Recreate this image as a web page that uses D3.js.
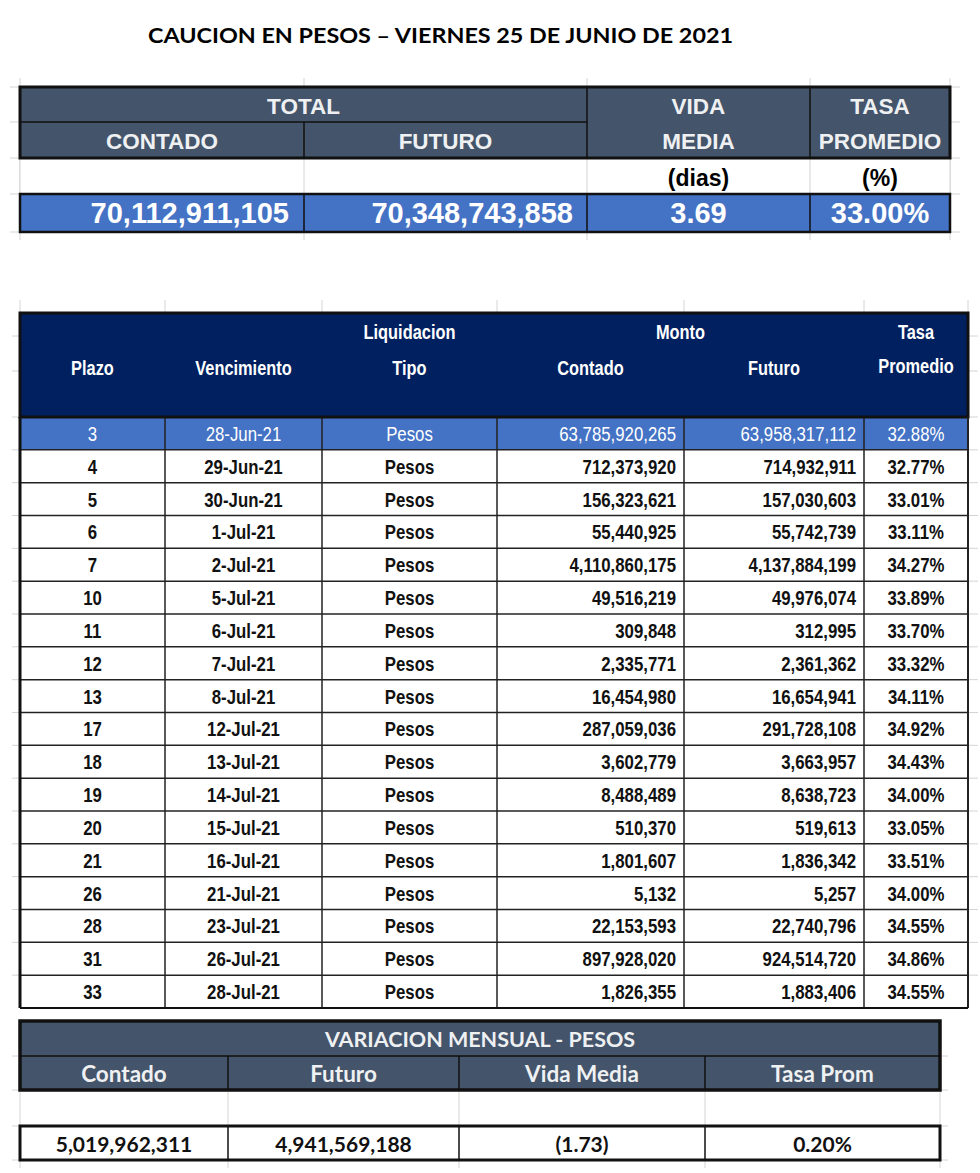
<!DOCTYPE html>
<html>
<head>
<meta charset="utf-8">
<script src="https://cdn.jsdelivr.net/npm/d3@7"></script>
<style>
  body { margin: 0; background: #fff; }
  svg text { font-family: "Liberation Sans", Arial, sans-serif; }
</style>
</head>
<body>
<div id="chart"></div>
<script>
// ---- datos ----
var titulo = "CAUCION EN PESOS \u2013 VIERNES 25 DE JUNIO DE 2021";

var totalContado = 70112911105,
    totalFuturo = 70348743858,
    vidaMedia = 3.69,
    tasaPromedio = 33.00;

var plazo = [3, 4, 5, 6, 7, 10, 11, 12, 13, 17, 18, 19, 20, 21, 26, 28, 31, 33];
var vencimiento = ["28-Jun-21", "29-Jun-21", "30-Jun-21", "1-Jul-21", "2-Jul-21", "5-Jul-21",
  "6-Jul-21", "7-Jul-21", "8-Jul-21", "12-Jul-21", "13-Jul-21", "14-Jul-21", "15-Jul-21",
  "16-Jul-21", "21-Jul-21", "23-Jul-21", "26-Jul-21", "28-Jul-21"];
var tipo = ["Pesos", "Pesos", "Pesos", "Pesos", "Pesos", "Pesos", "Pesos", "Pesos", "Pesos",
  "Pesos", "Pesos", "Pesos", "Pesos", "Pesos", "Pesos", "Pesos", "Pesos", "Pesos"];
var contado = [63785920265, 712373920, 156323621, 55440925, 4110860175, 49516219, 309848,
  2335771, 16454980, 287059036, 3602779, 8488489, 510370, 1801607, 5132, 22153593,
  897928020, 1826355];
var futuro = [63958317112, 714932911, 157030603, 55742739, 4137884199, 49976074, 312995,
  2361362, 16654941, 291728108, 3663957, 8638723, 519613, 1836342, 5257, 22740796,
  924514720, 1883406];
var tasa = [32.88, 32.77, 33.01, 33.11, 34.27, 33.89, 33.70, 33.32, 34.11, 34.92, 34.43,
  34.00, 33.05, 33.51, 34.00, 34.55, 34.86, 34.55];

var varLabels = ["Contado", "Futuro", "Vida Media", "Tasa Prom"];
var varValues = [5019962311, 4941569188, -1.73, 0.20];

// ---- formatos ----
var fmtNum = d3.format(",");
var fmtPct = function(v) { return d3.format(".2f")(v) + "%"; };
var fmtNeg = function(v) { return v < 0 ? "(" + d3.format(".2f")(-v) + ")" : d3.format(".2f")(v); };

var W = 980, H = 1173;
var slate = "#44546a", navy = "#002060", blue = "#4472c4", grid = "#d4d4d4";
var NARROW = 0.82; // Arial Narrow ~ Arial comprimida
var calibri = "Lato, 'Open Sans', sans-serif";

var svg = d3.select("#chart").append("svg")
  .attr("width", W).attr("height", H);

// titulo
svg.append("text")
  .attr("x", 148).attr("y", 43)
  .attr("textLength", 585).attr("lengthAdjust", "spacingAndGlyphs")
  .style("font-family", calibri)
  .style("font-weight", 700).style("font-size", "21.5px")
  .text(titulo);

function line(g, x1, y1, x2, y2, color, w) {
  g.append("line").attr("x1", x1).attr("y1", y1).attr("x2", x2).attr("y2", y2)
    .attr("stroke", color).attr("stroke-width", w);
}

// =============== tabla TOTAL ===============
var top1 = svg.append("g");
var tx = d3.scaleOrdinal().domain([0, 1, 2, 3, 4]).range([20, 304, 587, 810, 950]);
var ty = d3.scaleOrdinal().domain([0, 1, 2, 3, 4]).range([87, 122, 158, 194, 232]);

// grilla clara
[0, 1, 2, 3, 4].forEach(function(c) { line(top1, tx(c), 78, tx(c), 240, grid, 1); });
[0, 1, 2, 3, 4].forEach(function(r) { line(top1, 10, ty(r), 960, ty(r), grid, 1); });

top1.append("rect").attr("x", tx(0)).attr("y", ty(0))
  .attr("width", tx(4) - tx(0)).attr("height", ty(2) - ty(0)).attr("fill", slate);
top1.append("rect").attr("x", tx(0)).attr("y", ty(3))
  .attr("width", tx(4) - tx(0)).attr("height", ty(4) - ty(3)).attr("fill", blue);
top1.append("rect").attr("x", tx(0)).attr("y", ty(2))
  .attr("width", tx(4) - tx(0)).attr("height", ty(3) - ty(2)).attr("fill", "#fff");
[0, 1, 2, 3, 4].forEach(function(c) { line(top1, tx(c), ty(2), tx(c), ty(3), grid, 1); });

// bordes cabecera
line(top1, tx(0), ty(1), tx(2), ty(1), "#111", 1.5);
line(top1, tx(1), ty(1), tx(1), ty(2), "#111", 1.5);
line(top1, tx(2), ty(0), tx(2), ty(2), "#111", 1.5);
line(top1, tx(3), ty(0), tx(3), ty(2), "#111", 1.5);
top1.append("rect").attr("x", tx(0)).attr("y", ty(0))
  .attr("width", tx(4) - tx(0)).attr("height", ty(2) - ty(0))
  .attr("fill", "none").attr("stroke", "#111").attr("stroke-width", 3);
// bordes fila de totales
[1, 2, 3].forEach(function(c) { line(top1, tx(c), ty(3), tx(c), ty(4), "#111", 1.5); });
top1.append("rect").attr("x", tx(0)).attr("y", ty(3))
  .attr("width", tx(4) - tx(0)).attr("height", ty(4) - ty(3))
  .attr("fill", "none").attr("stroke", "#111").attr("stroke-width", 2.5);

var hdrTop = [
  {t: "TOTAL", x: (tx(0) + tx(2)) / 2, y: ty(0)},
  {t: "CONTADO", x: (tx(0) + tx(1)) / 2, y: ty(1)},
  {t: "FUTURO", x: (tx(1) + tx(2)) / 2, y: ty(1)},
  {t: "VIDA", x: (tx(2) + tx(3)) / 2, y: ty(0)},
  {t: "MEDIA", x: (tx(2) + tx(3)) / 2, y: ty(1)},
  {t: "TASA", x: (tx(3) + tx(4)) / 2, y: ty(0)},
  {t: "PROMEDIO", x: (tx(3) + tx(4)) / 2, y: ty(1)}
];
top1.selectAll("text.h").data(hdrTop).enter().append("text")
  .attr("x", function(d) { return d.x; })
  .attr("y", function(d) { return d.y + 27; })
  .attr("text-anchor", "middle")
  .attr("fill", "#eef0f2")
  .style("font-weight", 700).style("font-size", "22.5px")
  .text(function(d) { return d.t; });

top1.selectAll("text.u").data(["(dias)", "(%)"]).enter().append("text")
  .attr("x", function(d, i) { return (tx(2 + i) + tx(3 + i)) / 2; })
  .attr("y", ty(2) + 28)
  .attr("text-anchor", "middle")
  .style("font-weight", 700).style("font-size", "23px")
  .text(function(d) { return d; });

var totVals = [
  {t: fmtNum(totalContado), x: tx(1) - 15, a: "end"},
  {t: fmtNum(totalFuturo), x: tx(2) - 14, a: "end"},
  {t: d3.format(".2f")(vidaMedia), x: (tx(2) + tx(3)) / 2, a: "middle"},
  {t: fmtPct(tasaPromedio), x: (tx(3) + tx(4)) / 2, a: "middle"}
];
top1.selectAll("text.v").data(totVals).enter().append("text")
  .attr("x", function(d) { return d.x; })
  .attr("y", ty(3) + 29)
  .attr("text-anchor", function(d) { return d.a; })
  .attr("fill", "#fff")
  .style("font-weight", 700).style("font-size", "29px")
  .text(function(d) { return d.t; });

// =============== tabla detalle ===============
var main = svg.append("g");
var colEdges = [20, 165, 322, 497, 684, 864, 968];
var cx = d3.scaleOrdinal().domain(d3.range(7)).range(colEdges);
var hdrTopY = 313, hdrBotY = 417;
var ry = d3.scaleBand().domain(d3.range(plazo.length)).range([hdrBotY, 1008]);

// grilla clara alrededor
colEdges.forEach(function(e) { line(main, e, 300, e, hdrTopY, grid, 1); });
[336, 371].forEach(function(y) { line(main, 968, y, 978, y, grid, 1); line(main, 12, y, 20, y, grid, 1); });
ry.domain().forEach(function(i) {
  line(main, 12, ry(i), 20, ry(i), grid, 1);
  line(main, 968, ry(i), 978, ry(i), grid, 1);
});

main.append("rect").attr("x", cx(0)).attr("y", hdrTopY)
  .attr("width", cx(6) - cx(0)).attr("height", hdrBotY - hdrTopY).attr("fill", navy);

main.selectAll("rect.row").data(plazo).enter().append("rect")
  .attr("x", cx(0)).attr("y", function(d, i) { return ry(i); })
  .attr("width", cx(6) - cx(0)).attr("height", ry.bandwidth())
  .attr("fill", function(d, i) { return i === 0 ? blue : "#fff"; });

// lineas de filas y columnas
ry.domain().forEach(function(i) {
  line(main, cx(0), ry(i) + ry.bandwidth(), cx(6), ry(i) + ry.bandwidth(), "#222", 1.5);
});
d3.range(1, 6).forEach(function(c) { line(main, cx(c), hdrBotY, cx(c), 1008, "#222", 1.5); });
main.append("rect").attr("x", cx(0)).attr("y", hdrTopY)
  .attr("width", cx(6) - cx(0)).attr("height", hdrBotY - hdrTopY)
  .attr("fill", "none").attr("stroke", "#111").attr("stroke-width", 3);
line(main, cx(0), hdrBotY, cx(0), 1008, "#111", 3);
line(main, cx(6), hdrBotY, cx(6), 1008, "#222", 2);
line(main, cx(0), 1008, cx(6), 1008, "#111", 2);

var mainHdr = [
  {t: "Plazo", x: (cx(0) + cx(1)) / 2, y: 375},
  {t: "Vencimiento", x: (cx(1) + cx(2)) / 2, y: 375},
  {t: "Liquidacion", x: (cx(2) + cx(3)) / 2, y: 339},
  {t: "Tipo", x: (cx(2) + cx(3)) / 2, y: 375},
  {t: "Monto", x: (cx(3) + cx(5)) / 2, y: 339},
  {t: "Contado", x: (cx(3) + cx(4)) / 2, y: 375},
  {t: "Futuro", x: (cx(4) + cx(5)) / 2, y: 375},
  {t: "Tasa", x: (cx(5) + cx(6)) / 2, y: 339},
  {t: "Promedio", x: (cx(5) + cx(6)) / 2, y: 373}
];
main.selectAll("text.h").data(mainHdr).enter().append("text")
  .attr("x", function(d) { return d.x / NARROW; })
  .attr("y", function(d) { return d.y; })
  .attr("transform", "scale(" + NARROW + ",1)")
  .attr("text-anchor", "middle")
  .attr("fill", "#fff")
  .style("font-weight", 700).style("font-size", "20px")
  .text(function(d) { return d.t; });

var rows = plazo.map(function(p, i) {
  return [
    {t: String(p), x: (cx(0) + cx(1)) / 2, a: "middle"},
    {t: vencimiento[i], x: (cx(1) + cx(2)) / 2, a: "middle"},
    {t: tipo[i], x: (cx(2) + cx(3)) / 2, a: "middle"},
    {t: fmtNum(contado[i]), x: cx(4) - 8, a: "end"},
    {t: fmtNum(futuro[i]), x: cx(5) - 8, a: "end"},
    {t: fmtPct(tasa[i]), x: (cx(5) + cx(6)) / 2, a: "middle"}
  ];
});
var rowG = main.selectAll("g.r").data(rows).enter().append("g")
  .attr("transform", function(d, i) { return "translate(0," + (ry(i) + ry.bandwidth() / 2 + 7.5) + ")"; });
rowG.selectAll("text").data(function(d) { return d; }).enter().append("text")
  .attr("x", function(d) { return d.x / NARROW; })
  .attr("transform", "scale(" + NARROW + ",1)")
  .attr("text-anchor", function(d) { return d.a; })
  .style("font-size", "20.5px")
  .text(function(d) { return d.t; });
rowG.each(function(d, i) {
  d3.select(this).selectAll("text")
    .attr("fill", i === 0 ? "#fff" : "#111")
    .style("font-weight", i === 0 ? 400 : 700);
});

// =============== variacion mensual ===============
var bot = svg.append("g");
var bx = d3.scaleOrdinal().domain(d3.range(5)).range([20, 228, 459, 705, 940]);
var by = d3.scaleOrdinal().domain(d3.range(5)).range([1021, 1056, 1090, 1126, 1160]);

d3.range(5).forEach(function(c) { line(bot, bx(c), 1090, bx(c), 1168, grid, 1); });
[1056, 1090, 1126, 1160].forEach(function(y) { line(bot, 12, y, 948, y, grid, 1); });

bot.append("rect").attr("x", bx(0)).attr("y", by(0))
  .attr("width", bx(4) - bx(0)).attr("height", by(2) - by(0)).attr("fill", slate);
line(bot, bx(0), by(1), bx(4), by(1), "#111", 1.5);
[1, 2, 3].forEach(function(c) { line(bot, bx(c), by(1), bx(c), by(2), "#111", 1.5); });
bot.append("rect").attr("x", bx(0)).attr("y", by(0))
  .attr("width", bx(4) - bx(0)).attr("height", by(2) - by(0))
  .attr("fill", "none").attr("stroke", "#111").attr("stroke-width", 3.5);

bot.append("rect").attr("x", bx(0)).attr("y", by(3))
  .attr("width", bx(4) - bx(0)).attr("height", by(4) - by(3)).attr("fill", "#fff");
[1, 2, 3].forEach(function(c) { line(bot, bx(c), by(3), bx(c), by(4), "#111", 1.5); });
bot.append("rect").attr("x", bx(0)).attr("y", by(3))
  .attr("width", bx(4) - bx(0)).attr("height", by(4) - by(3))
  .attr("fill", "none").attr("stroke", "#111").attr("stroke-width", 3);

bot.append("text")
  .attr("x", (bx(0) + bx(4)) / 2).attr("y", by(0) + 26)
  .attr("text-anchor", "middle").attr("fill", "#eef0f2")
  .style("font-family", calibri).style("font-weight", 700).style("font-size", "21.5px")
  .text("VARIACION MENSUAL - PESOS");

bot.selectAll("text.l").data(varLabels).enter().append("text")
  .attr("x", function(d, i) { return (bx(i) + bx(i + 1)) / 2; })
  .attr("y", by(1) + 26)
  .attr("text-anchor", "middle").attr("fill", "#eef0f2")
  .style("font-family", calibri).style("font-weight", 700).style("font-size", "22.5px")
  .text(function(d) { return d; });

bot.selectAll("text.v").data(varValues).enter().append("text")
  .attr("x", function(d, i) { return (bx(i) + bx(i + 1)) / 2; })
  .attr("y", by(3) + 26)
  .attr("text-anchor", "middle").attr("fill", "#111")
  .style("font-family", calibri).style("font-weight", 700).style("font-size", "21px")
  .text(function(d, i) { return i < 2 ? fmtNum(d) : (i === 2 ? fmtNeg(d) : fmtPct(d)); });
</script>
</body>
</html>
